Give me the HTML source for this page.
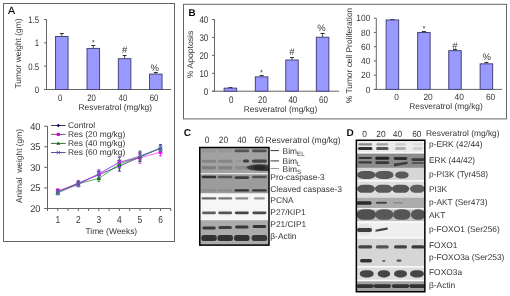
<!DOCTYPE html>
<html><head><meta charset="utf-8"><style>
html,body{margin:0;padding:0;background:#fff;}
body{width:510px;height:296px;overflow:hidden;}
svg{display:block;font-family:"Liberation Sans", sans-serif;will-change:transform;text-rendering:geometricPrecision;}
</style></head><body>
<svg width="510" height="296" viewBox="0 0 510 296">
<defs>
<filter id="bl" x="-5%" y="-5%" width="110%" height="110%"><feGaussianBlur stdDeviation="0.4"/></filter>
<filter id="bb" x="-20%" y="-50%" width="140%" height="200%"><feGaussianBlur stdDeviation="0.7"/></filter>
<filter id="soft" x="0" y="0" width="100%" height="100%"><feGaussianBlur stdDeviation="0.28"/></filter>
<clipPath id="clipC"><rect x="200" y="147.5" width="69" height="97.6"/></clipPath>
<clipPath id="clipD"><rect x="356.5" y="140" width="68.2" height="152"/></clipPath>
</defs>
<g filter="url(#soft)">
<rect x="0" y="0" width="510" height="296" fill="#fff"/>
<rect x="3.5" y="3.5" width="171" height="238" fill="none" stroke="#666" stroke-width="1" />
<rect x="183.5" y="4.3" width="323" height="114.6" fill="none" stroke="#666" stroke-width="1" />
<text x="8.1" y="13.8" font-size="10.6" fill="#000" stroke="#000" stroke-width="0.1">A</text>
<line x1="46.5" y1="19.5" x2="46.5" y2="89.5" stroke="#666" stroke-width="1"/>
<line x1="44.0" y1="89.5" x2="171" y2="89.5" stroke="#666" stroke-width="1"/>
<line x1="44.0" y1="89.5" x2="46.5" y2="89.5" stroke="#666" stroke-width="1"/>
<text x="0" y="0" transform="translate(39.2,92.89) scale(0.93,1.13)" text-anchor="end" font-size="8.4" font-weight="normal" fill="#353535" >0</text>
<line x1="44.0" y1="66.16666666666667" x2="46.5" y2="66.16666666666667" stroke="#666" stroke-width="1"/>
<text x="0" y="0" transform="translate(39.2,69.55666666666667) scale(0.93,1.13)" text-anchor="end" font-size="8.4" font-weight="normal" fill="#353535" >0.5</text>
<line x1="44.0" y1="42.833333333333336" x2="46.5" y2="42.833333333333336" stroke="#666" stroke-width="1"/>
<text x="0" y="0" transform="translate(39.2,46.223333333333336) scale(0.93,1.13)" text-anchor="end" font-size="8.4" font-weight="normal" fill="#353535" >1</text>
<line x1="44.0" y1="19.5" x2="46.5" y2="19.5" stroke="#666" stroke-width="1"/>
<text x="0" y="0" transform="translate(39.2,22.89) scale(0.93,1.13)" text-anchor="end" font-size="8.4" font-weight="normal" fill="#353535" >1.5</text>
<line x1="61.8" y1="33.5" x2="61.8" y2="36.48666666666667" stroke="#333" stroke-width="0.9"/>
<line x1="59.8" y1="33.5" x2="63.8" y2="33.5" stroke="#333" stroke-width="1"/>
<rect x="55.55" y="36.48666666666667" width="12.5" height="53.01333333333333" fill="#9999ff" stroke="#45457a" stroke-width="1" />
<line x1="93.3" y1="45.5" x2="93.3" y2="48.43333333333334" stroke="#333" stroke-width="0.9"/>
<line x1="91.3" y1="45.5" x2="95.3" y2="45.5" stroke="#333" stroke-width="1"/>
<rect x="87.05" y="48.43333333333334" width="12.5" height="41.06666666666666" fill="#9999ff" stroke="#45457a" stroke-width="1" />
<text x="93.3" y="44.9" text-anchor="middle" font-size="7.6" font-weight="normal" fill="#353535" >*</text>
<line x1="124.6" y1="55.5" x2="124.6" y2="58.7" stroke="#333" stroke-width="0.9"/>
<line x1="122.6" y1="55.5" x2="126.6" y2="55.5" stroke="#333" stroke-width="1"/>
<rect x="118.35" y="58.7" width="12.5" height="30.799999999999997" fill="#9999ff" stroke="#45457a" stroke-width="1" />
<text x="124.6" y="53.1" text-anchor="middle" font-size="9.5" font-weight="normal" fill="#353535" >#</text>
<line x1="155.8" y1="72.5" x2="155.8" y2="74.1" stroke="#333" stroke-width="0.9"/>
<line x1="153.8" y1="72.5" x2="157.8" y2="72.5" stroke="#333" stroke-width="1"/>
<rect x="149.55" y="74.1" width="12.5" height="15.400000000000006" fill="#9999ff" stroke="#45457a" stroke-width="1" />
<text x="154.70000000000002" y="71.1" text-anchor="middle" font-size="9.5" font-weight="normal" fill="#353535" >%</text>
<text x="0" y="0" transform="translate(60.099999999999994,101) scale(0.93,1.13)" text-anchor="middle" font-size="8.4" font-weight="normal" fill="#353535" >0</text>
<text x="0" y="0" transform="translate(91.6,101) scale(0.93,1.13)" text-anchor="middle" font-size="8.4" font-weight="normal" fill="#353535" >20</text>
<text x="0" y="0" transform="translate(122.89999999999999,101) scale(0.93,1.13)" text-anchor="middle" font-size="8.4" font-weight="normal" fill="#353535" >40</text>
<text x="0" y="0" transform="translate(154.10000000000002,101) scale(0.93,1.13)" text-anchor="middle" font-size="8.4" font-weight="normal" fill="#353535" >60</text>
<text x="115.3" y="109.8" text-anchor="middle" font-size="8.4" font-weight="normal" fill="#353535" >Resveratrol (mg/kg)</text>
<text x="0" y="0" font-size="8.4" fill="#353535" text-anchor="middle" transform="translate(21,53.5) rotate(-90)">Tumor weight (gm)</text>
<line x1="47.5" y1="126.2" x2="47.5" y2="208.5" stroke="#666" stroke-width="1"/>
<line x1="44.7" y1="208.5" x2="171" y2="208.5" stroke="#666" stroke-width="1"/>
<line x1="44.2" y1="208.5" x2="47.5" y2="208.5" stroke="#666" stroke-width="1"/>
<text x="0" y="0" transform="translate(40.4,211.9) scale(1.1,1.17)" text-anchor="end" font-size="8.4" font-weight="normal" fill="#353535" >20</text>
<line x1="44.2" y1="187.925" x2="47.5" y2="187.925" stroke="#666" stroke-width="1"/>
<text x="0" y="0" transform="translate(40.4,191.32500000000002) scale(1.1,1.17)" text-anchor="end" font-size="8.4" font-weight="normal" fill="#353535" >25</text>
<line x1="44.2" y1="167.35" x2="47.5" y2="167.35" stroke="#666" stroke-width="1"/>
<text x="0" y="0" transform="translate(40.4,170.75) scale(1.1,1.17)" text-anchor="end" font-size="8.4" font-weight="normal" fill="#353535" >30</text>
<line x1="44.2" y1="146.775" x2="47.5" y2="146.775" stroke="#666" stroke-width="1"/>
<text x="0" y="0" transform="translate(40.4,150.175) scale(1.1,1.17)" text-anchor="end" font-size="8.4" font-weight="normal" fill="#353535" >35</text>
<line x1="44.2" y1="126.19999999999999" x2="47.5" y2="126.19999999999999" stroke="#666" stroke-width="1"/>
<text x="0" y="0" transform="translate(40.4,129.6) scale(1.1,1.17)" text-anchor="end" font-size="8.4" font-weight="normal" fill="#353535" >40</text>
<line x1="47.5" y1="208.5" x2="47.5" y2="211.0" stroke="#666" stroke-width="1"/>
<line x1="57.769999999999996" y1="208.5" x2="57.769999999999996" y2="211.0" stroke="#666" stroke-width="1"/>
<line x1="68.03999999999999" y1="208.5" x2="68.03999999999999" y2="211.0" stroke="#666" stroke-width="1"/>
<line x1="78.31" y1="208.5" x2="78.31" y2="211.0" stroke="#666" stroke-width="1"/>
<line x1="88.58" y1="208.5" x2="88.58" y2="211.0" stroke="#666" stroke-width="1"/>
<line x1="98.85" y1="208.5" x2="98.85" y2="211.0" stroke="#666" stroke-width="1"/>
<line x1="109.12" y1="208.5" x2="109.12" y2="211.0" stroke="#666" stroke-width="1"/>
<line x1="119.39" y1="208.5" x2="119.39" y2="211.0" stroke="#666" stroke-width="1"/>
<line x1="129.66" y1="208.5" x2="129.66" y2="211.0" stroke="#666" stroke-width="1"/>
<line x1="139.93" y1="208.5" x2="139.93" y2="211.0" stroke="#666" stroke-width="1"/>
<line x1="150.2" y1="208.5" x2="150.2" y2="211.0" stroke="#666" stroke-width="1"/>
<line x1="160.47" y1="208.5" x2="160.47" y2="211.0" stroke="#666" stroke-width="1"/>
<line x1="170.74" y1="208.5" x2="170.74" y2="211.0" stroke="#666" stroke-width="1"/>
<text x="0" y="0" transform="translate(57.769999999999996,222.7) scale(1.0,1.2)" text-anchor="middle" font-size="8.4" font-weight="normal" fill="#353535" >1</text>
<text x="0" y="0" transform="translate(78.31,222.7) scale(1.0,1.2)" text-anchor="middle" font-size="8.4" font-weight="normal" fill="#353535" >2</text>
<text x="0" y="0" transform="translate(98.85,222.7) scale(1.0,1.2)" text-anchor="middle" font-size="8.4" font-weight="normal" fill="#353535" >3</text>
<text x="0" y="0" transform="translate(119.38999999999999,222.7) scale(1.0,1.2)" text-anchor="middle" font-size="8.4" font-weight="normal" fill="#353535" >4</text>
<text x="0" y="0" transform="translate(139.93,222.7) scale(1.0,1.2)" text-anchor="middle" font-size="8.4" font-weight="normal" fill="#353535" >5</text>
<text x="0" y="0" transform="translate(160.46999999999997,222.7) scale(1.0,1.2)" text-anchor="middle" font-size="8.4" font-weight="normal" fill="#353535" >6</text>
<text x="111.3" y="233.5" text-anchor="middle" font-size="8.4" font-weight="normal" fill="#353535" >Time (Weeks)</text>
<text x="0" y="0" font-size="8.4" fill="#353535" text-anchor="middle" transform="translate(22,166) rotate(-90)" xml:space="preserve">Animal  weight (gm)</text>
<polyline points="57.77,192.04 78.31,182.99 98.85,174.76 119.39,166.12 139.93,157.06 160.47,148.01" fill="none" stroke="#000080" stroke-width="0.7" stroke-opacity="0.9"/>
<polyline points="57.77,190.81 78.31,183.81 98.85,174.35 119.39,162.00 139.93,157.89 160.47,152.12" fill="none" stroke="#ff00ff" stroke-width="0.7" stroke-opacity="0.9"/>
<polyline points="57.77,192.04 78.31,183.81 98.85,178.46 119.39,164.06 139.93,156.65 160.47,148.42" fill="none" stroke="#008000" stroke-width="0.7" stroke-opacity="0.9"/>
<polyline points="57.77,192.86 78.31,184.63 98.85,173.52 119.39,162.41 139.93,155.83 160.47,148.42" fill="none" stroke="#6666cc" stroke-width="0.7" stroke-opacity="0.9"/>
<path d="M57.769999999999996 189.9825V194.0975M56.269999999999996 189.9825H59.269999999999996M56.269999999999996 194.0975H59.269999999999996" stroke="#000080" stroke-width="0.8" fill="none"/>
<path d="M57.769999999999996 190.04L59.769999999999996 192.04L57.769999999999996 194.04L55.769999999999996 192.04Z" fill="#000080"/>
<path d="M78.31 180.9295V185.0445M76.81 180.9295H79.81M76.81 185.0445H79.81" stroke="#000080" stroke-width="0.8" fill="none"/>
<path d="M78.31 180.987L80.31 182.987L78.31 184.987L76.31 182.987Z" fill="#000080"/>
<path d="M98.85 171.465V178.049M97.35 171.465H100.35M97.35 178.049H100.35" stroke="#000080" stroke-width="0.8" fill="none"/>
<path d="M98.85 172.757L100.85 174.757L98.85 176.757L96.85 174.757Z" fill="#000080"/>
<path d="M119.38999999999999 161.1775V171.05349999999999M117.88999999999999 161.1775H120.88999999999999M117.88999999999999 171.05349999999999H120.88999999999999" stroke="#000080" stroke-width="0.8" fill="none"/>
<path d="M119.38999999999999 164.1155L121.38999999999999 166.1155L119.38999999999999 168.1155L117.38999999999999 166.1155Z" fill="#000080"/>
<path d="M139.93 152.9475V161.1775M138.43 152.9475H141.43M138.43 161.1775H141.43" stroke="#000080" stroke-width="0.8" fill="none"/>
<path d="M139.93 155.0625L141.93 157.0625L139.93 159.0625L137.93 157.0625Z" fill="#000080"/>
<path d="M160.46999999999997 144.7175V151.30149999999998M158.96999999999997 144.7175H161.96999999999997M158.96999999999997 151.30149999999998H161.96999999999997" stroke="#000080" stroke-width="0.8" fill="none"/>
<path d="M160.46999999999997 146.0095L162.46999999999997 148.0095L160.46999999999997 150.0095L158.46999999999997 148.0095Z" fill="#000080"/>
<path d="M57.769999999999996 188.748V192.863M56.269999999999996 188.748H59.269999999999996M56.269999999999996 192.863H59.269999999999996" stroke="#ff00ff" stroke-width="0.8" fill="none"/>
<rect x="55.97" y="189.00549999999998" width="3.6" height="3.6" fill="#ff00ff"/>
<path d="M78.31 180.9295V186.6905M76.81 180.9295H79.81M76.81 186.6905H79.81" stroke="#ff00ff" stroke-width="0.8" fill="none"/>
<rect x="76.51" y="182.01" width="3.6" height="3.6" fill="#ff00ff"/>
<path d="M98.85 170.2305V178.4605M97.35 170.2305H100.35M97.35 178.4605H100.35" stroke="#ff00ff" stroke-width="0.8" fill="none"/>
<rect x="97.05" y="172.54549999999998" width="3.6" height="3.6" fill="#ff00ff"/>
<path d="M119.38999999999999 157.0625V166.93849999999998M117.88999999999999 157.0625H120.88999999999999M117.88999999999999 166.93849999999998H120.88999999999999" stroke="#ff00ff" stroke-width="0.8" fill="none"/>
<rect x="117.58999999999999" y="160.20049999999998" width="3.6" height="3.6" fill="#ff00ff"/>
<path d="M139.93 152.53600000000003V163.235M138.43 152.53600000000003H141.43M138.43 163.235H141.43" stroke="#ff00ff" stroke-width="0.8" fill="none"/>
<rect x="138.13" y="156.0855" width="3.6" height="3.6" fill="#ff00ff"/>
<path d="M160.46999999999997 148.421V155.82799999999997M158.96999999999997 148.421H161.96999999999997M158.96999999999997 155.82799999999997H161.96999999999997" stroke="#ff00ff" stroke-width="0.8" fill="none"/>
<rect x="158.66999999999996" y="150.32449999999997" width="3.6" height="3.6" fill="#ff00ff"/>
<path d="M57.769999999999996 189.9825V194.0975M56.269999999999996 189.9825H59.269999999999996M56.269999999999996 194.0975H59.269999999999996" stroke="#008000" stroke-width="0.8" fill="none"/>
<path d="M57.769999999999996 189.84L59.97 193.69L55.56999999999999 193.69Z" fill="#008000"/>
<path d="M78.31 181.7525V185.8675M76.81 181.7525H79.81M76.81 185.8675H79.81" stroke="#008000" stroke-width="0.8" fill="none"/>
<path d="M78.31 181.61L80.51 185.46L76.11 185.46Z" fill="#008000"/>
<path d="M98.85 175.57999999999998V181.341M97.35 175.57999999999998H100.35M97.35 181.341H100.35" stroke="#008000" stroke-width="0.8" fill="none"/>
<path d="M98.85 176.2605L101.05 180.1105L96.64999999999999 180.1105Z" fill="#008000"/>
<path d="M119.38999999999999 159.94299999999998V168.173M117.88999999999999 159.94299999999998H120.88999999999999M117.88999999999999 168.173H120.88999999999999" stroke="#008000" stroke-width="0.8" fill="none"/>
<path d="M119.38999999999999 161.858L121.58999999999999 165.708L117.18999999999998 165.708Z" fill="#008000"/>
<path d="M139.93 151.71299999999997V161.589M138.43 151.71299999999997H141.43M138.43 161.589H141.43" stroke="#008000" stroke-width="0.8" fill="none"/>
<path d="M139.93 154.451L142.13 158.301L137.73000000000002 158.301Z" fill="#008000"/>
<path d="M160.46999999999997 145.54049999999998V151.3015M158.96999999999997 145.54049999999998H161.96999999999997M158.96999999999997 151.3015H161.96999999999997" stroke="#008000" stroke-width="0.8" fill="none"/>
<path d="M160.46999999999997 146.221L162.66999999999996 150.071L158.26999999999998 150.071Z" fill="#008000"/>
<path d="M57.769999999999996 190.8055V194.9205M56.269999999999996 190.8055H59.269999999999996M56.269999999999996 194.9205H59.269999999999996" stroke="#6666cc" stroke-width="0.8" fill="none"/>
<path d="M55.769999999999996 190.863L59.769999999999996 194.863M59.769999999999996 190.863L55.769999999999996 194.863" stroke="#6666cc" stroke-width="0.9"/>
<path d="M78.31 182.5755V186.6905M76.81 182.5755H79.81M76.81 186.6905H79.81" stroke="#6666cc" stroke-width="0.8" fill="none"/>
<path d="M76.31 182.63299999999998L80.31 186.63299999999998M80.31 182.63299999999998L76.31 186.63299999999998" stroke="#6666cc" stroke-width="0.9"/>
<path d="M98.85 169.81900000000002V177.226M97.35 169.81900000000002H100.35M97.35 177.226H100.35" stroke="#6666cc" stroke-width="0.8" fill="none"/>
<path d="M96.85 171.5225L100.85 175.5225M100.85 171.5225L96.85 175.5225" stroke="#6666cc" stroke-width="0.9"/>
<path d="M119.38999999999999 157.474V167.35M117.88999999999999 157.474H120.88999999999999M117.88999999999999 167.35H120.88999999999999" stroke="#6666cc" stroke-width="0.8" fill="none"/>
<path d="M117.38999999999999 160.412L121.38999999999999 164.412M121.38999999999999 160.412L117.38999999999999 164.412" stroke="#6666cc" stroke-width="0.9"/>
<path d="M139.93 150.89V160.76600000000002M138.43 150.89H141.43M138.43 160.76600000000002H141.43" stroke="#6666cc" stroke-width="0.8" fill="none"/>
<path d="M137.93 153.828L141.93 157.828M141.93 153.828L137.93 157.828" stroke="#6666cc" stroke-width="0.9"/>
<path d="M160.46999999999997 145.12900000000002V151.71299999999997M158.96999999999997 145.12900000000002H161.96999999999997M158.96999999999997 151.71299999999997H161.96999999999997" stroke="#6666cc" stroke-width="0.8" fill="none"/>
<path d="M158.46999999999997 146.421L162.46999999999997 150.421M162.46999999999997 146.421L158.46999999999997 150.421" stroke="#6666cc" stroke-width="0.9"/>
<line x1="51" y1="125.5" x2="65.6" y2="125.5" stroke="#3c3c60" stroke-width="1"/>
<path d="M58.3 123.8L60.0 125.5L58.3 127.2L56.599999999999994 125.5Z" fill="#000060"/>
<text x="68" y="128.0" text-anchor="start" font-size="8.4" font-weight="normal" fill="#353535" >Control</text>
<line x1="51" y1="134.4" x2="65.6" y2="134.4" stroke="#8a4a8a" stroke-width="1"/>
<rect x="56.769999999999996" y="132.87" width="3.06" height="3.06" fill="#cc00cc"/>
<text x="68" y="136.9" text-anchor="start" font-size="8.4" font-weight="normal" fill="#353535" >Res (20 mg/kg)</text>
<line x1="51" y1="143.4" x2="65.6" y2="143.4" stroke="#3f6a3f" stroke-width="1"/>
<path d="M58.3 141.53L60.169999999999995 144.8025L56.43 144.8025Z" fill="#007000"/>
<text x="68" y="145.8" text-anchor="start" font-size="8.4" font-weight="normal" fill="#353535" >Res (40 mg/kg)</text>
<line x1="51" y1="152.5" x2="65.6" y2="152.5" stroke="#55558f" stroke-width="1"/>
<path d="M56.599999999999994 150.8L60.0 154.2M60.0 150.8L56.599999999999994 154.2" stroke="#4444cc" stroke-width="0.9"/>
<text x="68" y="154.7" text-anchor="start" font-size="8.4" font-weight="normal" fill="#353535" >Res (60 mg/kg)</text>
<text x="188.6" y="15.7" font-size="9.8" font-weight="bold" fill="#000">B</text>
<line x1="214.5" y1="19.5" x2="214.5" y2="91.2" stroke="#666" stroke-width="1"/>
<line x1="212.0" y1="91.2" x2="339" y2="91.2" stroke="#666" stroke-width="1"/>
<line x1="212.0" y1="91.2" x2="214.5" y2="91.2" stroke="#666" stroke-width="1"/>
<text x="0" y="0" transform="translate(208.3,94.68) scale(0.95,1.16)" text-anchor="end" font-size="8.4" font-weight="normal" fill="#353535" >0</text>
<line x1="212.0" y1="73.275" x2="214.5" y2="73.275" stroke="#666" stroke-width="1"/>
<text x="0" y="0" transform="translate(208.3,76.75500000000001) scale(0.95,1.16)" text-anchor="end" font-size="8.4" font-weight="normal" fill="#353535" >10</text>
<line x1="212.0" y1="55.35" x2="214.5" y2="55.35" stroke="#666" stroke-width="1"/>
<text x="0" y="0" transform="translate(208.3,58.83) scale(0.95,1.16)" text-anchor="end" font-size="8.4" font-weight="normal" fill="#353535" >20</text>
<line x1="212.0" y1="37.425000000000004" x2="214.5" y2="37.425000000000004" stroke="#666" stroke-width="1"/>
<text x="0" y="0" transform="translate(208.3,40.905) scale(0.95,1.16)" text-anchor="end" font-size="8.4" font-weight="normal" fill="#353535" >30</text>
<line x1="212.0" y1="19.5" x2="214.5" y2="19.5" stroke="#666" stroke-width="1"/>
<text x="0" y="0" transform="translate(208.3,22.98) scale(0.95,1.16)" text-anchor="end" font-size="8.4" font-weight="normal" fill="#353535" >40</text>
<line x1="230.4" y1="87.5" x2="230.4" y2="88.15275" stroke="#333" stroke-width="0.9"/>
<line x1="228.4" y1="87.5" x2="232.4" y2="87.5" stroke="#333" stroke-width="1"/>
<rect x="224.15" y="88.15275" width="12.5" height="3.0472500000000053" fill="#9999ff" stroke="#45457a" stroke-width="1" />
<line x1="261.6" y1="75.5" x2="261.6" y2="76.86" stroke="#333" stroke-width="0.9"/>
<line x1="259.6" y1="75.5" x2="263.6" y2="75.5" stroke="#333" stroke-width="1"/>
<rect x="255.35000000000002" y="76.86" width="12.5" height="14.340000000000003" fill="#9999ff" stroke="#45457a" stroke-width="1" />
<text x="261.6" y="74.9" text-anchor="middle" font-size="7.6" font-weight="normal" fill="#353535" >*</text>
<line x1="292.0" y1="57.5" x2="292.0" y2="60.01050000000001" stroke="#333" stroke-width="0.9"/>
<line x1="290.0" y1="57.5" x2="294.0" y2="57.5" stroke="#333" stroke-width="1"/>
<rect x="285.75" y="60.01050000000001" width="12.5" height="31.189499999999995" fill="#9999ff" stroke="#45457a" stroke-width="1" />
<text x="292.0" y="55.1" text-anchor="middle" font-size="9.5" font-weight="normal" fill="#353535" >#</text>
<line x1="322.6" y1="33.5" x2="322.6" y2="37.24575" stroke="#333" stroke-width="0.9"/>
<line x1="320.6" y1="33.5" x2="324.6" y2="33.5" stroke="#333" stroke-width="1"/>
<rect x="316.35" y="37.24575" width="12.5" height="53.95425" fill="#9999ff" stroke="#45457a" stroke-width="1" />
<text x="321.5" y="30.9" text-anchor="middle" font-size="9.5" font-weight="normal" fill="#353535" >%</text>
<text x="0" y="0" transform="translate(231.20000000000002,103.0) scale(0.95,1.16)" text-anchor="middle" font-size="8.4" font-weight="normal" fill="#353535" >0</text>
<text x="0" y="0" transform="translate(262.40000000000003,103.0) scale(0.95,1.16)" text-anchor="middle" font-size="8.4" font-weight="normal" fill="#353535" >20</text>
<text x="0" y="0" transform="translate(292.8,103.0) scale(0.95,1.16)" text-anchor="middle" font-size="8.4" font-weight="normal" fill="#353535" >40</text>
<text x="0" y="0" transform="translate(323.40000000000003,103.0) scale(0.95,1.16)" text-anchor="middle" font-size="8.4" font-weight="normal" fill="#353535" >60</text>
<text x="280.5" y="111.6" text-anchor="middle" font-size="8.4" font-weight="normal" fill="#353535" >Resveratrol (mg/kg)</text>
<text x="0" y="0" font-size="8.4" fill="#353535" text-anchor="middle" textLength="47.5" lengthAdjust="spacingAndGlyphs" transform="translate(192.6,54.4) rotate(-90)">% Apoptosis</text>
<line x1="376.3" y1="18.2" x2="376.3" y2="89.4" stroke="#666" stroke-width="1"/>
<line x1="373.8" y1="89.4" x2="502.3" y2="89.4" stroke="#666" stroke-width="1"/>
<line x1="373.8" y1="89.4" x2="376.3" y2="89.4" stroke="#666" stroke-width="1"/>
<text x="0" y="0" transform="translate(370.3,92.64) scale(1.0,1.08)" text-anchor="end" font-size="8.4" font-weight="normal" fill="#353535" >0</text>
<line x1="373.8" y1="75.16" x2="376.3" y2="75.16" stroke="#666" stroke-width="1"/>
<text x="0" y="0" transform="translate(370.3,78.39999999999999) scale(1.0,1.08)" text-anchor="end" font-size="8.4" font-weight="normal" fill="#353535" >20</text>
<line x1="373.8" y1="60.92" x2="376.3" y2="60.92" stroke="#666" stroke-width="1"/>
<text x="0" y="0" transform="translate(370.3,64.16) scale(1.0,1.08)" text-anchor="end" font-size="8.4" font-weight="normal" fill="#353535" >40</text>
<line x1="373.8" y1="46.68" x2="376.3" y2="46.68" stroke="#666" stroke-width="1"/>
<text x="0" y="0" transform="translate(370.3,49.92) scale(1.0,1.08)" text-anchor="end" font-size="8.4" font-weight="normal" fill="#353535" >60</text>
<line x1="373.8" y1="32.44" x2="376.3" y2="32.44" stroke="#666" stroke-width="1"/>
<text x="0" y="0" transform="translate(370.3,35.68) scale(1.0,1.08)" text-anchor="end" font-size="8.4" font-weight="normal" fill="#353535" >80</text>
<line x1="373.8" y1="18.200000000000003" x2="376.3" y2="18.200000000000003" stroke="#666" stroke-width="1"/>
<text x="0" y="0" transform="translate(370.3,21.440000000000005) scale(1.0,1.08)" text-anchor="end" font-size="8.4" font-weight="normal" fill="#353535" >100</text>
<line x1="392.4" y1="19.5" x2="392.4" y2="19.980000000000004" stroke="#333" stroke-width="0.9"/>
<line x1="390.4" y1="19.5" x2="394.4" y2="19.5" stroke="#333" stroke-width="1"/>
<rect x="386.15" y="19.980000000000004" width="12.5" height="69.42" fill="#9999ff" stroke="#45457a" stroke-width="1" />
<line x1="423.9" y1="31.5" x2="423.9" y2="32.511199999999995" stroke="#333" stroke-width="0.9"/>
<line x1="421.9" y1="31.5" x2="425.9" y2="31.5" stroke="#333" stroke-width="1"/>
<rect x="417.65" y="32.511199999999995" width="12.5" height="56.88880000000001" fill="#9999ff" stroke="#45457a" stroke-width="1" />
<text x="423.9" y="30.9" text-anchor="middle" font-size="7.6" font-weight="normal" fill="#353535" >*</text>
<line x1="455.0" y1="49.5" x2="455.0" y2="50.6672" stroke="#333" stroke-width="0.9"/>
<line x1="453.0" y1="49.5" x2="457.0" y2="49.5" stroke="#333" stroke-width="1"/>
<rect x="448.75" y="50.6672" width="12.5" height="38.732800000000005" fill="#9999ff" stroke="#45457a" stroke-width="1" />
<text x="455.0" y="48.5" text-anchor="middle" font-size="9.5" font-weight="normal" fill="#353535" >#</text>
<line x1="486.4" y1="62.5" x2="486.4" y2="63.839200000000005" stroke="#333" stroke-width="0.9"/>
<line x1="484.4" y1="62.5" x2="488.4" y2="62.5" stroke="#333" stroke-width="1"/>
<rect x="480.15" y="63.839200000000005" width="12.5" height="25.5608" fill="#9999ff" stroke="#45457a" stroke-width="1" />
<text x="486.79999999999995" y="59.9" text-anchor="middle" font-size="9.5" font-weight="normal" fill="#353535" >%</text>
<text x="0" y="0" transform="translate(396.59999999999997,100.4) scale(1.0,1.08)" text-anchor="middle" font-size="8.4" font-weight="normal" fill="#353535" >0</text>
<text x="0" y="0" transform="translate(428.09999999999997,100.4) scale(1.0,1.08)" text-anchor="middle" font-size="8.4" font-weight="normal" fill="#353535" >20</text>
<text x="0" y="0" transform="translate(459.2,100.4) scale(1.0,1.08)" text-anchor="middle" font-size="8.4" font-weight="normal" fill="#353535" >40</text>
<text x="0" y="0" transform="translate(490.59999999999997,100.4) scale(1.0,1.08)" text-anchor="middle" font-size="8.4" font-weight="normal" fill="#353535" >60</text>
<text x="446.0" y="109.4" text-anchor="middle" font-size="8.4" font-weight="normal" fill="#353535" >Resveratrol (mg/kg)</text>
<text x="0" y="0" font-size="8.4" fill="#353535" text-anchor="middle" transform="translate(352,55.5) rotate(-90)">% Tumor cell Proliferation</text>
<text x="183.8" y="136.3" font-size="10" font-weight="bold" fill="#111">C</text>
<text x="0" y="0" transform="translate(207.1,142.6) scale(1.0,1.1)" text-anchor="middle" font-size="8.4" font-weight="normal" fill="#353535" >0</text>
<text x="0" y="0" transform="translate(223.4,142.6) scale(1.0,1.1)" text-anchor="middle" font-size="8.4" font-weight="normal" fill="#353535" >20</text>
<text x="0" y="0" transform="translate(241.8,142.6) scale(1.0,1.1)" text-anchor="middle" font-size="8.4" font-weight="normal" fill="#353535" >40</text>
<text x="0" y="0" transform="translate(259.1,142.6) scale(1.0,1.1)" text-anchor="middle" font-size="8.4" font-weight="normal" fill="#353535" >60</text>
<text x="265.6" y="142.5" text-anchor="start" font-size="8.55" font-weight="normal" fill="#353535" >Resveratrol (mg/kg)</text>
<g filter="url(#bl)">
<rect x="200" y="147.5" width="69" height="25.7" fill="#a2a2a2" stroke="none" stroke-width="1" />
<rect x="200" y="173.2" width="69" height="1.0" fill="#e8e8e8" stroke="none" stroke-width="1" />
<rect x="200" y="174.2" width="69" height="19.3" fill="#9c9c9c" stroke="none" stroke-width="1" />
<rect x="200" y="193.5" width="69" height="26.7" fill="#f6f6f6" stroke="none" stroke-width="1" />
<rect x="200" y="220.2" width="69" height="25" fill="#ababab" stroke="none" stroke-width="1" />
</g>
<g clip-path="url(#clipC)"><g filter="url(#bb)">
<rect x="201.75" y="149.60" width="14.50" height="2.60" rx="1.30" ry="1.30" fill="#969696"/>
<rect x="217.95" y="149.60" width="14.50" height="2.60" rx="1.30" ry="1.30" fill="#969696"/>
<rect x="234.55" y="149.60" width="14.50" height="2.60" rx="1.30" ry="1.30" fill="#555"/>
<rect x="252.15" y="149.60" width="14.50" height="2.60" rx="1.30" ry="1.30" fill="#505050"/>
<rect x="201.75" y="159.70" width="14.50" height="3.00" rx="1.50" ry="1.50" fill="#858585"/>
<rect x="217.95" y="159.70" width="14.50" height="3.00" rx="1.50" ry="1.50" fill="#858585"/>
<rect x="235.00" y="159.90" width="7.00" height="2.60" rx="1.30" ry="1.30" fill="#999"/>
<rect x="243.00" y="159.40" width="6.00" height="3.20" rx="1.60" ry="1.60" fill="#3c3c3c"/>
<rect x="251.90" y="159.40" width="15.00" height="3.40" rx="1.70" ry="1.70" fill="#444"/>
<rect x="201.75" y="166.00" width="14.50" height="3.60" rx="1.80" ry="1.80" fill="#808080"/>
<rect x="217.95" y="166.00" width="14.50" height="3.60" rx="1.80" ry="1.80" fill="#828282"/>
<rect x="234.55" y="166.00" width="14.50" height="3.60" rx="1.80" ry="1.80" fill="#8c8c8c"/>
<path d="M246.5 166.8 Q251 164.6 258 164.2 Q266 164.2 268.5 165.5 L268.5 171 Q258 171.3 251 170 Q246.8 169 246.5 166.8Z" fill="#3a3a3a"/>
<ellipse cx="259.5" cy="167.8" rx="6.5" ry="2.2" fill="#262626"/>
<rect x="201.75" y="175.70" width="14.50" height="2.60" rx="1.30" ry="1.30" fill="#303030"/>
<rect x="217.95" y="175.70" width="14.50" height="2.60" rx="1.30" ry="1.30" fill="#555"/>
<rect x="234.55" y="176.30" width="14.50" height="2.60" rx="1.30" ry="1.30" fill="#404040"/>
<rect x="252.15" y="175.70" width="14.50" height="2.60" rx="1.30" ry="1.30" fill="#505050"/>
<rect x="201.75" y="189.20" width="14.50" height="2.40" rx="1.20" ry="1.20" fill="#8c8c8c"/>
<rect x="217.95" y="189.20" width="14.50" height="2.40" rx="1.20" ry="1.20" fill="#8c8c8c"/>
<rect x="234.55" y="189.20" width="14.50" height="2.40" rx="1.20" ry="1.20" fill="#333"/>
<rect x="252.15" y="189.20" width="14.50" height="2.40" rx="1.20" ry="1.20" fill="#383838"/>
<rect x="201.50" y="197.30" width="15.00" height="2.20" rx="1.10" ry="1.10" fill="#6a6a6a"/>
<rect x="218.20" y="197.30" width="14.00" height="2.20" rx="1.10" ry="1.10" fill="#777"/>
<rect x="235.30" y="197.30" width="13.00" height="2.20" rx="1.10" ry="1.10" fill="#8c8c8c"/>
<rect x="253.90" y="197.30" width="11.00" height="2.20" rx="1.10" ry="1.10" fill="#9a9a9a"/>
<rect x="202.00" y="211.40" width="14.00" height="2.80" rx="1.40" ry="1.40" fill="#606060"/>
<rect x="218.20" y="211.40" width="14.00" height="2.80" rx="1.40" ry="1.40" fill="#555"/>
<rect x="234.80" y="211.40" width="14.00" height="2.80" rx="1.40" ry="1.40" fill="#444"/>
<rect x="252.40" y="211.40" width="14.00" height="2.80" rx="1.40" ry="1.40" fill="#484848"/>
<rect x="202.25" y="226.50" width="13.50" height="3.00" rx="1.50" ry="1.50" fill="#3a3a3a"/>
<rect x="218.45" y="226.10" width="13.50" height="3.00" rx="1.50" ry="1.50" fill="#404040"/>
<rect x="235.05" y="225.60" width="13.50" height="3.00" rx="1.50" ry="1.50" fill="#383838"/>
<rect x="252.65" y="225.10" width="13.50" height="3.00" rx="1.50" ry="1.50" fill="#353535"/>
<rect x="201.25" y="234.90" width="15.50" height="6.00" rx="2.50" ry="2.50" fill="#333"/>
<rect x="217.45" y="234.90" width="15.50" height="6.00" rx="2.50" ry="2.50" fill="#303030"/>
<rect x="234.05" y="234.90" width="15.50" height="6.00" rx="2.50" ry="2.50" fill="#333"/>
<rect x="251.65" y="234.90" width="15.50" height="6.00" rx="2.50" ry="2.50" fill="#383838"/>
</g></g>
<rect x="199.75" y="147.5" width="69.25" height="97.6" fill="none" stroke="#000" stroke-width="1.5" />
<line x1="270.5" y1="150.6" x2="279" y2="150.6" stroke="#3a3a3a" stroke-width="1"/>
<line x1="270.5" y1="160.9" x2="279" y2="160.9" stroke="#3a3a3a" stroke-width="1"/>
<line x1="270.5" y1="168.5" x2="279" y2="168.5" stroke="#999" stroke-width="1"/>
<text x="282.6" y="154.3" font-size="8.4" fill="#353535">Bim<tspan font-size="6.2" dy="2">EL</tspan></text>
<text x="282.6" y="163.6" font-size="8.4" fill="#353535">Bim<tspan font-size="6.2" dy="2">L</tspan></text>
<text x="282.6" y="172.3" font-size="8.4" fill="#353535">Bim<tspan font-size="6.2" dy="2">S</tspan></text>
<text x="270.3" y="180.3" text-anchor="start" font-size="8.4" font-weight="normal" fill="#353535" >Pro-caspase-3</text>
<text x="270.3" y="192.2" text-anchor="start" font-size="8.4" font-weight="normal" fill="#353535" >Cleaved caspase-3</text>
<text x="270.3" y="203.2" text-anchor="start" font-size="8.4" font-weight="normal" fill="#353535" >PCNA</text>
<text x="270.3" y="215.4" text-anchor="start" font-size="8.4" font-weight="normal" fill="#353535" >P27/KIP1</text>
<text x="270.3" y="227.2" text-anchor="start" font-size="8.4" font-weight="normal" fill="#353535" >P21/CIP1</text>
<text x="270.3" y="238.8" text-anchor="start" font-size="8.4" font-weight="normal" fill="#353535" >&#946;-Actin</text>
<text x="346.5" y="135.8" font-size="10" font-weight="bold" fill="#111">D</text>
<text x="0" y="0" transform="translate(364.7,136.9) scale(1.0,1.06)" text-anchor="middle" font-size="8.4" font-weight="normal" fill="#353535" >0</text>
<text x="0" y="0" transform="translate(381,136.9) scale(1.0,1.06)" text-anchor="middle" font-size="8.4" font-weight="normal" fill="#353535" >20</text>
<text x="0" y="0" transform="translate(397.4,136.9) scale(1.0,1.06)" text-anchor="middle" font-size="8.4" font-weight="normal" fill="#353535" >40</text>
<text x="0" y="0" transform="translate(416.8,136.9) scale(1.0,1.06)" text-anchor="middle" font-size="8.4" font-weight="normal" fill="#353535" >60</text>
<text x="426" y="135.5" text-anchor="start" font-size="8.4" font-weight="normal" fill="#353535" >Resveratrol (mg/kg)</text>
<g filter="url(#bl)">
<rect x="356.5" y="140" width="68" height="12.199999999999989" fill="#ececec" stroke="none" stroke-width="1" />
<rect x="356.5" y="152.2" width="68" height="1.4000000000000057" fill="#fbfbfb" stroke="none" stroke-width="1" />
<rect x="356.5" y="153.6" width="68" height="14.300000000000011" fill="#8c8c8c" stroke="none" stroke-width="1" />
<rect x="356.5" y="167.9" width="68" height="12.299999999999983" fill="#d6d6d6" stroke="none" stroke-width="1" />
<rect x="356.5" y="180.2" width="68" height="1.4000000000000057" fill="#fafafa" stroke="none" stroke-width="1" />
<rect x="356.5" y="181.6" width="68" height="16.0" fill="#dedede" stroke="none" stroke-width="1" />
<rect x="356.5" y="197.6" width="68" height="10.5" fill="#acacac" stroke="none" stroke-width="1" />
<rect x="356.5" y="208.1" width="68" height="1.3000000000000114" fill="#f4f4f4" stroke="none" stroke-width="1" />
<rect x="356.5" y="209.4" width="68" height="11.900000000000006" fill="#bdbdbd" stroke="none" stroke-width="1" />
<rect x="356.5" y="221.3" width="68" height="1.5" fill="#fafafa" stroke="none" stroke-width="1" />
<rect x="356.5" y="222.8" width="68" height="14.599999999999994" fill="#efefef" stroke="none" stroke-width="1" />
<rect x="356.5" y="237.4" width="68" height="1.1999999999999886" fill="#fafafa" stroke="none" stroke-width="1" />
<rect x="356.5" y="238.6" width="68" height="27.599999999999994" fill="#d6d6d6" stroke="none" stroke-width="1" />
<rect x="356.5" y="266.2" width="68" height="1.400000000000034" fill="#fbfbfb" stroke="none" stroke-width="1" />
<rect x="356.5" y="267.6" width="68" height="12.199999999999989" fill="#dcdcdc" stroke="none" stroke-width="1" />
<rect x="356.5" y="279.8" width="68" height="1.5" fill="#fbfbfb" stroke="none" stroke-width="1" />
<rect x="356.5" y="281.3" width="68" height="10.699999999999989" fill="#a2a2a2" stroke="none" stroke-width="1" />
</g>
<g clip-path="url(#clipD)"><g filter="url(#bb)">
<rect x="358.20" y="143.20" width="14.00" height="2.20" rx="1.10" ry="1.10" fill="#8a8a8a"/>
<rect x="376.30" y="143.20" width="12.00" height="2.20" rx="1.10" ry="1.10" fill="#a0a0a0"/>
<rect x="395.00" y="143.20" width="11.00" height="2.20" rx="1.10" ry="1.10" fill="#cccccc"/>
<rect x="412.90" y="143.20" width="10.00" height="2.20" rx="1.10" ry="1.10" fill="#dcdcdc"/>
<rect x="357.95" y="146.90" width="14.50" height="3.00" rx="1.50" ry="1.50" fill="#333"/>
<rect x="376.05" y="146.90" width="12.50" height="3.00" rx="1.50" ry="1.50" fill="#555"/>
<rect x="395.00" y="146.90" width="11.00" height="3.00" rx="1.50" ry="1.50" fill="#b0b0b0"/>
<rect x="412.90" y="146.90" width="10.00" height="3.00" rx="1.50" ry="1.50" fill="#d0d0d0"/>
<rect x="358.45" y="157.00" width="13.50" height="2.00" rx="1.00" ry="1.00" fill="#333"/>
<rect x="375.30" y="156.80" width="14.00" height="3.00" rx="1.50" ry="1.50" fill="#222"/>
<rect x="393.75" y="157.10" width="13.50" height="2.80" rx="1.40" ry="1.40" fill="#2e2e2e"/>
<rect x="411.40" y="158.30" width="13.00" height="2.60" rx="1.30" ry="1.30" fill="#3a3a3a"/>
<rect x="358.45" y="161.20" width="13.50" height="2.40" rx="1.20" ry="1.20" fill="#3a3a3a"/>
<rect x="375.30" y="161.30" width="14.00" height="2.60" rx="1.30" ry="1.30" fill="#383838"/>
<path d="M394 163.6 Q400 163.2 407.5 161.6 L407.5 164 Q400 165 394 166.6 Z" fill="#3a3a3a"/>
<rect x="411.90" y="162.10" width="12.00" height="1.80" rx="0.90" ry="0.90" fill="#555"/>
<rect x="357.05" y="171.10" width="18.50" height="7.80" rx="6.50" ry="3.90" fill="#565656"/>
<rect x="375.05" y="171.10" width="18.50" height="7.80" rx="6.50" ry="3.90" fill="#595959"/>
<rect x="395.15" y="171.40" width="13.50" height="7.20" rx="5.50" ry="3.60" fill="#5a5a5a"/>
<rect x="357.00" y="184.80" width="18.00" height="8.00" rx="6.20" ry="4.00" fill="#555"/>
<rect x="374.85" y="184.80" width="17.50" height="8.00" rx="6.20" ry="4.00" fill="#5a5a5a"/>
<rect x="391.85" y="184.80" width="17.50" height="8.00" rx="6.20" ry="4.00" fill="#555"/>
<rect x="409.90" y="184.80" width="15.00" height="8.00" rx="6.20" ry="4.00" fill="#5e5e5e"/>
<rect x="356.50" y="201.30" width="15.00" height="3.40" rx="1.50" ry="1.50" fill="#2a2a2a"/>
<rect x="376.00" y="201.70" width="11.00" height="2.00" rx="1.00" ry="1.00" fill="#444"/>
<rect x="393.00" y="202.00" width="10.00" height="1.60" rx="0.80" ry="0.80" fill="#8a8a8a"/>
<rect x="356.55" y="209.20" width="19.50" height="10.60" rx="6.80" ry="5.30" fill="#505050"/>
<rect x="375.30" y="209.20" width="18.00" height="10.60" rx="6.80" ry="5.30" fill="#585858"/>
<rect x="393.05" y="209.20" width="17.50" height="10.60" rx="6.80" ry="5.30" fill="#555"/>
<rect x="410.95" y="209.20" width="14.50" height="10.60" rx="6.80" ry="5.30" fill="#555"/>
<ellipse cx="364.5" cy="229.5" rx="8.0" ry="5.5" fill="#e2e2e2"/>
<rect x="357.00" y="228.10" width="15.00" height="3.80" rx="1.90" ry="1.90" fill="#3c3c3c"/>
<path d="M375.5 229.8 Q381 228.6 387.5 227.6 L388 229.4 Q382 230.8 375.5 231.8 Z" fill="#444"/>
<rect x="358.20" y="245.20" width="14.00" height="3.40" rx="1.70" ry="1.70" fill="#444"/>
<rect x="375.80" y="245.20" width="13.00" height="3.40" rx="1.70" ry="1.70" fill="#555"/>
<rect x="394.00" y="245.20" width="13.00" height="3.40" rx="1.70" ry="1.70" fill="#444"/>
<rect x="411.40" y="245.20" width="13.00" height="3.40" rx="1.70" ry="1.70" fill="#3a3a3a"/>
<rect x="360.00" y="259.10" width="12.00" height="3.40" rx="1.70" ry="1.70" fill="#333"/>
<rect x="382.30" y="259.90" width="3.00" height="1.80" rx="0.90" ry="0.90" fill="#555"/>
<rect x="396.50" y="259.50" width="5.00" height="2.20" rx="1.10" ry="1.10" fill="#555"/>
<rect x="359.70" y="270.20" width="14.00" height="7.20" rx="5.20" ry="3.60" fill="#444"/>
<rect x="377.65" y="270.20" width="12.50" height="7.20" rx="5.20" ry="3.60" fill="#444"/>
<rect x="394.00" y="270.20" width="13.00" height="7.20" rx="5.20" ry="3.60" fill="#444"/>
<rect x="410.00" y="270.20" width="14.00" height="7.20" rx="5.20" ry="3.60" fill="#444"/>
<rect x="356.45" y="284.30" width="17.50" height="3.60" rx="1.80" ry="1.80" fill="#333"/>
<rect x="373.55" y="284.30" width="17.50" height="3.60" rx="1.80" ry="1.80" fill="#333"/>
<rect x="391.75" y="284.30" width="17.50" height="3.60" rx="1.80" ry="1.80" fill="#333"/>
<rect x="409.15" y="284.30" width="17.50" height="3.60" rx="1.80" ry="1.80" fill="#333"/>
</g></g>
<rect x="356.35" y="140.25" width="68.5" height="151.5" fill="none" stroke="#000" stroke-width="1.5" />
<text x="429" y="147.3" text-anchor="start" font-size="8.4" font-weight="normal" fill="#353535" >p-ERK (42/44)</text>
<text x="429" y="162.9" text-anchor="start" font-size="8.4" font-weight="normal" fill="#353535" >ERK (44/42)</text>
<text x="429" y="176.7" text-anchor="start" font-size="8.4" font-weight="normal" fill="#353535" >p-PI3K (Tyr458)</text>
<text x="429" y="191.5" text-anchor="start" font-size="8.4" font-weight="normal" fill="#353535" >PI3K</text>
<text x="429" y="205.3" text-anchor="start" font-size="8.4" font-weight="normal" fill="#353535" >p-AKT (Ser473)</text>
<text x="429" y="217.9" text-anchor="start" font-size="8.4" font-weight="normal" fill="#353535" >AKT</text>
<text x="429" y="231.7" text-anchor="start" font-size="8.4" font-weight="normal" fill="#353535" >p-FOXO1 (Ser256)</text>
<text x="429" y="247.5" text-anchor="start" font-size="8.4" font-weight="normal" fill="#353535" >FOXO1</text>
<text x="429" y="260.3" text-anchor="start" font-size="8.4" font-weight="normal" fill="#353535" >p-FOXO3a (Ser253)</text>
<text x="429" y="275.1" text-anchor="start" font-size="8.4" font-weight="normal" fill="#353535" >FOXO3a</text>
<text x="429" y="288.3" text-anchor="start" font-size="8.4" font-weight="normal" fill="#353535" >&#946;-Actin</text>
</g>
</svg>
</body></html>
